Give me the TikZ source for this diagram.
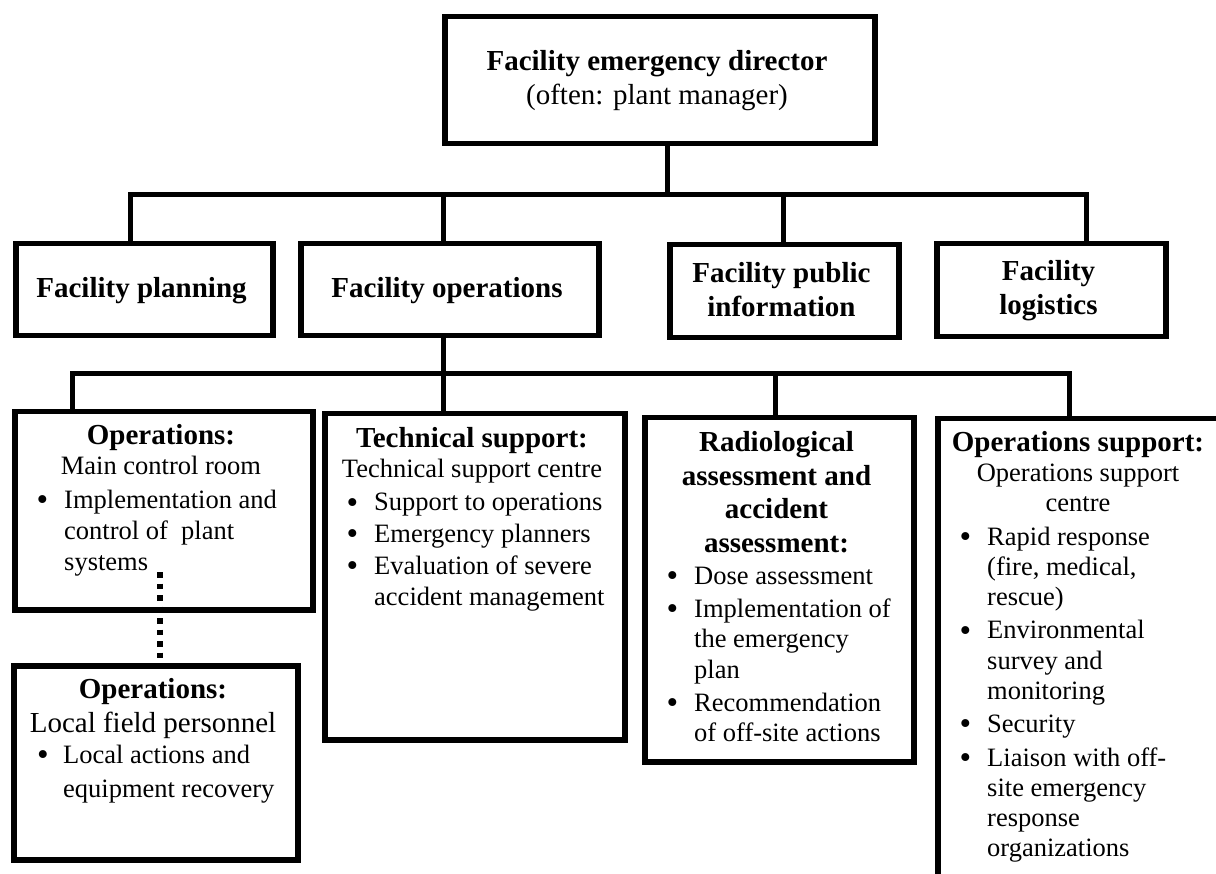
\documentclass[tikz,border=0pt]{standalone}
\usepackage{fontspec}
\setmainfont{Liberation Serif}
\newcommand{\hfnt}{\fontsize{29}{33.5}\selectfont\bfseries}
\newcommand{\bfnt}{\fontsize{26.5}{31}\selectfont}
\newcommand{\lfnt}{\fontsize{29}{34}\selectfont}
\newcommand{\bu}{\makebox[27.6pt][l]{\raisebox{-2.2pt}{\scalebox{1.25}{\textbullet}}}}
\newcommand{\bux}{\makebox[26pt][l]{\raisebox{-2.2pt}{\scalebox{1.25}{\textbullet}}}}
\tikzset{
  box/.style={draw, line width=5.5pt, inner sep=0pt, anchor=north west},
  conn/.style={line width=5pt},
  dotconn/.style={line width=6pt, dash pattern=on 5.5pt off 6pt},
  txt/.style={inner sep=0pt, anchor=base},
  lst/.style={inner sep=0pt, anchor=base west},
}
\begin{document}
\begin{tikzpicture}[x=1pt,y=-1pt]
\useasboundingbox (0,0) rectangle (1216,874);

% boxes
\node[box, minimum width=430pt, minimum height=127pt] (dir) at (442,14) {};
\node[box, minimum width=257pt, minimum height=92pt] (plan) at (13,241) {};
\node[box, minimum width=298pt, minimum height=92pt] (fops) at (298,241) {};
\node[box, minimum width=229pt, minimum height=93pt] (pub) at (667,242) {};
\node[box, minimum width=229pt, minimum height=93pt] (log) at (934,241) {};
\node[box, minimum width=298pt, minimum height=198pt] (mcr) at (12,409) {};
\node[box, minimum width=300pt, minimum height=326pt] (tech) at (322,411) {};
\node[box, minimum width=269pt, minimum height=344pt] (rad) at (642,415) {};
\node[box, minimum width=284pt, minimum height=194pt] (field) at (11,663) {};
\node[box, minimum width=286pt, minimum height=480pt] (osup) at (935,416) {};

% connectors, level 1
\coordinate (j0) at (667,195);
\coordinate (j1) at (130,195);
\coordinate (j2) at (443,195);
\coordinate (j3) at (783,195);
\coordinate (j4) at (1086,195);
\draw[conn] (dir.south -| j0) -- (j0);
\draw[conn] (plan.north -| j1) -- (j1) -- (j4) -- (log.north -| j4);
\draw[conn] (j2) -- (fops.north -| j2);
\draw[conn] (j3) -- (pub.north -| j3);

% connectors, level 2
\coordinate (k1) at (72,374);
\coordinate (k2) at (443,374);
\coordinate (k3) at (775,374);
\coordinate (k4) at (1069,374);
\draw[conn] (mcr.north -| k1) -- (k1) -- (k4) -- (osup.north -| k4);
\draw[conn] (fops.south -| k2) -- (tech.north -| k2);
\draw[conn] (k3) -- (rad.north -| k3);

% dotted link
\coordinate (d0) at (160,572);
\draw[dotconn] (d0) -- (field.north -| d0);

% texts
\node[txt] (dirT) at (657,71) {\hfnt\begin{tabular}[t]{@{}c@{}}Facility emergency director\\ \mdseries (often: plant manager)\end{tabular}};
\node[txt] (planT) at (141.5,298) {\hfnt Facility planning};
\node[txt] (fopsT) at (447,298) {\hfnt Facility operations};
\node[txt] (pubT) at (781.5,283) {\hfnt\begin{tabular}[t]{@{}c@{}}Facility public\\ information\end{tabular}};
\node[txt] (logT) at (1048.5,281) {\hfnt\begin{tabular}[t]{@{}c@{}}Facility\\ logistics\end{tabular}};

% main control room
\node[txt] (mcrH) at (161,445) {\hfnt Operations:};
\node[txt] (mcrS) at (161,475) {\bfnt Main control room};
\node[lst] (mcrL) at (36.4,508) {\bfnt\begin{tabular}[t]{@{}l@{}l@{}}
\bu & Implementation and\\
 & control of\ \ plant\\
 & systems
\end{tabular}};

% local field personnel
\node[txt] (fldH) at (153,698) {\hfnt Operations:};
\node[txt] (fldS) at (153,732) {\lfnt Local field personnel};
\node[lst] (fldL) at (37,763) {\fontsize{26.5}{34}\selectfont\begin{tabular}[t]{@{}l@{}l@{}}
\bux & Local actions and\\
 & equipment recovery
\end{tabular}};

% technical support
\node[txt] (techH) at (472,448) {\hfnt Technical support:};
\node[txt] (techS) at (472,478) {\bfnt Technical support centre};
\node[lst] (techL) at (346.4,511) {\fontsize{26.5}{31.5}\selectfont\begin{tabular}[t]{@{}l@{}l@{}}
\bu & Support to operations\\
\bu & Emergency planners\\
\bu & Evaluation of severe\\
 & accident management
\end{tabular}};

% radiological
\node[txt] (radH) at (776.5,452) {\hfnt\begin{tabular}[t]{@{}c@{}}Radiological\\ assessment and\\ accident\\ assessment:\end{tabular}};
\node[lst] (radL) at (666.4,584) {\fontsize{26.5}{30.5}\selectfont\begin{tabular}[t]{@{}l@{}l@{}}
\bu & Dose assessment\\[2.5pt]
\bu & Implementation of\\
 & the emergency\\
 & plan\\[2.5pt]
\bu & Recommendation\\
 & of off-site actions
\end{tabular}};

% operations support
\node[txt] (osH) at (1078,452) {\hfnt Operations support:};
\node[txt] (osS) at (1078,482) {\fontsize{26.5}{30}\selectfont\begin{tabular}[t]{@{}c@{}}Operations support\\ centre\end{tabular}};
\node[lst] (osL) at (959.4,545) {\fontsize{26.5}{30.3}\selectfont\begin{tabular}[t]{@{}l@{}l@{}}
\bu & Rapid response\\
 & (fire, medical,\\
 & rescue)\\[3pt]
\bu & Environmental\\
 & survey and\\
 & monitoring\\[3pt]
\bu & Security\\[3pt]
\bu & Liaison with off-\\
 & site emergency\\
 & response\\
 & organizations
\end{tabular}};
\end{tikzpicture}
\end{document}
